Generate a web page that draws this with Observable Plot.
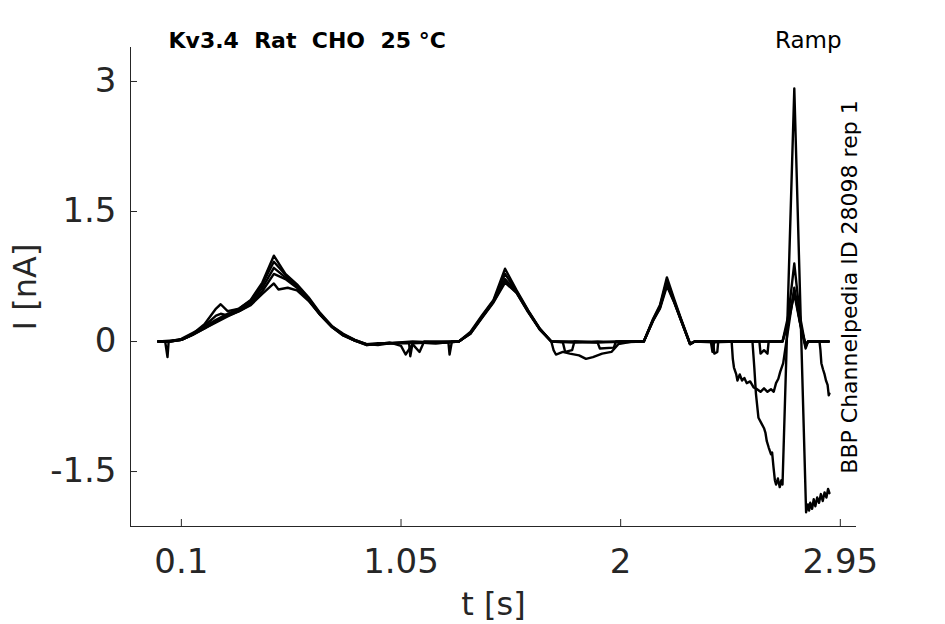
<!DOCTYPE html>
<html><head><meta charset="utf-8">
<script src="https://cdn.jsdelivr.net/npm/d3@7"></script>
<script src="https://cdn.jsdelivr.net/npm/@observablehq/plot@0.6"></script>
<style>body{margin:0;background:#fff}</style>
</head><body><div id="chart"></div>
<script>
// Sweeps: [time (s), current (nA)]
const sweep1 = [[0,0],[0.05,0.01],[0.1,0.02],[0.15,0.08],[0.2,0.15],[0.25,0.23],[0.3,0.30],[0.35,0.36],[0.4,0.45],[0.45,0.62],[0.5,0.85],[0.55,0.74],[0.6,0.63],[0.65,0.49],[0.7,0.31],[0.75,0.17],[0.8,0.08],[0.85,0.01],[0.9,-0.04],[0.95,-0.03],[1.0,-0.02],[1.1,-0.01],[1.2,-0.02],[1.3,0.0],[1.35,0.09],[1.4,0.28],[1.45,0.46],[1.5,0.72],[1.55,0.57],[1.6,0.35],[1.65,0.14],[1.7,0.0],[1.8,-0.01],[1.9,-0.01],[2.0,0.0],[2.1,0.0],[2.14,0.24],[2.17,0.39],[2.2,0.68],[2.23,0.47],[2.26,0.25],[2.3,-0.03],[2.32,0.0],[2.4,-0.01],[2.5,0.0],[2.57,0.0],[2.578,-0.3],[2.585,-0.6],[2.596,-0.88],[2.61,-0.95],[2.62,-1.0],[2.626,-1.05],[2.632,-1.15],[2.64,-1.22],[2.65,-1.3],[2.655,-1.28],[2.661,-1.45],[2.667,-1.6],[2.672,-1.65],[2.68,-1.58],[2.688,-1.68],[2.695,-1.6],[2.70,-1.65],[2.751,2.92],[2.802,-1.97],[2.81,-1.88],[2.815,-1.95],[2.82,-1.86],[2.828,-1.93],[2.835,-1.82],[2.842,-1.9],[2.85,-1.8],[2.858,-1.86],[2.866,-1.76],[2.874,-1.84],[2.882,-1.74],[2.89,-1.8],[2.897,-1.7],[2.903,-1.75]];
const sweep2 = [[0,0],[0.05,0.0],[0.1,0.02],[0.15,0.08],[0.2,0.15],[0.25,0.22],[0.3,0.29],[0.35,0.35],[0.4,0.43],[0.45,0.58],[0.5,0.78],[0.55,0.72],[0.6,0.62],[0.65,0.48],[0.7,0.31],[0.75,0.17],[0.8,0.07],[0.85,0.01],[0.9,-0.03],[0.95,-0.02],[1.0,-0.02],[1.085,-0.02],[1.09,-0.17],[1.1,-0.02],[1.2,-0.01],[1.3,0.0],[1.35,0.10],[1.4,0.28],[1.45,0.46],[1.5,0.70],[1.55,0.56],[1.6,0.34],[1.65,0.14],[1.7,0.0],[1.8,-0.01],[1.9,0.0],[2.0,-0.01],[2.1,0.0],[2.14,0.25],[2.17,0.40],[2.2,0.66],[2.23,0.47],[2.26,0.26],[2.3,-0.03],[2.32,0.0],[2.4,0.0],[2.48,0.0],[2.485,-0.2],[2.49,-0.3],[2.5,-0.38],[2.505,-0.45],[2.515,-0.38],[2.525,-0.45],[2.535,-0.42],[2.545,-0.48],[2.56,-0.46],[2.575,-0.53],[2.59,-0.55],[2.605,-0.58],[2.62,-0.54],[2.635,-0.58],[2.65,-0.55],[2.662,-0.58],[2.672,-0.48],[2.682,-0.43],[2.69,-0.35],[2.703,-0.25],[2.751,0.62],[2.78,0.15],[2.80,-0.05],[2.81,0.0],[2.86,0.0],[2.864,-0.1],[2.868,-0.25],[2.875,-0.32],[2.882,-0.38],[2.888,-0.45],[2.895,-0.5],[2.9,-0.62],[2.903,-0.6]];
const sweep3 = [[0,0],[0.03,0.0],[0.04,-0.18],[0.045,0.0],[0.1,0.03],[0.15,0.1],[0.2,0.17],[0.25,0.25],[0.3,0.32],[0.35,0.38],[0.4,0.48],[0.45,0.68],[0.5,0.99],[0.55,0.78],[0.6,0.66],[0.65,0.51],[0.7,0.33],[0.75,0.18],[0.8,0.09],[0.85,0.02],[0.9,-0.03],[0.95,-0.04],[1.0,-0.02],[1.1,0.0],[1.2,-0.01],[1.255,-0.01],[1.26,-0.15],[1.27,0.0],[1.3,0.0],[1.35,0.11],[1.4,0.30],[1.45,0.48],[1.5,0.84],[1.55,0.59],[1.6,0.36],[1.65,0.15],[1.7,0.0],[1.8,0.0],[1.9,-0.01],[2.0,0.0],[2.1,0.0],[2.14,0.26],[2.17,0.42],[2.2,0.74],[2.23,0.5],[2.26,0.27],[2.3,-0.02],[2.32,0.0],[2.39,0.0],[2.397,-0.12],[2.405,0.0],[2.5,0.0],[2.6,0.0],[2.7,0.0],[2.725,0.3],[2.751,0.9],[2.775,0.3],[2.8,-0.06],[2.81,0.0],[2.9,0.0]];
const sweep4 = [[0,0],[0.05,0.0],[0.1,0.02],[0.15,0.09],[0.2,0.2],[0.25,0.38],[0.27,0.43],[0.3,0.35],[0.35,0.38],[0.4,0.47],[0.45,0.66],[0.5,0.92],[0.55,0.77],[0.6,0.65],[0.65,0.5],[0.7,0.32],[0.75,0.18],[0.8,0.08],[0.85,0.02],[0.9,-0.03],[0.95,-0.03],[1.0,-0.01],[1.05,-0.05],[1.07,-0.15],[1.1,-0.03],[1.13,-0.12],[1.15,0.0],[1.2,0.0],[1.3,0.0],[1.35,0.1],[1.4,0.29],[1.45,0.47],[1.5,0.78],[1.55,0.58],[1.6,0.35],[1.65,0.15],[1.7,0.0],[1.71,-0.1],[1.72,-0.15],[1.75,-0.12],[1.78,-0.14],[1.82,-0.16],[1.85,-0.2],[1.88,-0.18],[1.92,-0.14],[1.96,-0.12],[1.99,-0.03],[2.05,0.0],[2.1,0.0],[2.14,0.25],[2.17,0.41],[2.2,0.70],[2.23,0.48],[2.26,0.26],[2.3,-0.03],[2.32,0.0],[2.4,0.0],[2.405,-0.14],[2.418,-0.12],[2.422,0.0],[2.5,0.0],[2.6,0.0],[2.605,-0.14],[2.62,-0.1],[2.635,-0.14],[2.64,0.0],[2.7,0.0],[2.725,0.24],[2.751,0.58],[2.775,0.24],[2.8,-0.08],[2.81,0.0],[2.9,0.0]];
const sweep5 = [[0,0],[0.05,0.0],[0.1,0.02],[0.15,0.08],[0.2,0.18],[0.25,0.3],[0.27,0.32],[0.3,0.3],[0.35,0.35],[0.4,0.42],[0.45,0.55],[0.5,0.67],[0.52,0.6],[0.56,0.62],[0.6,0.59],[0.65,0.47],[0.7,0.31],[0.75,0.17],[0.8,0.07],[0.85,0.01],[0.9,-0.04],[0.95,-0.03],[1.0,-0.02],[1.1,-0.01],[1.2,-0.02],[1.3,0.0],[1.35,0.09],[1.4,0.27],[1.45,0.45],[1.5,0.68],[1.55,0.56],[1.6,0.34],[1.65,0.14],[1.7,0.0],[1.75,-0.01],[1.76,-0.12],[1.79,-0.1],[1.8,0.0],[1.9,-0.01],[1.91,-0.08],[1.97,-0.07],[1.98,0.0],[2.1,0.0],[2.14,0.24],[2.17,0.38],[2.2,0.64],[2.23,0.46],[2.26,0.25],[2.3,-0.03],[2.32,0.0],[2.5,0.0],[2.7,0.0],[2.725,0.22],[2.751,0.55],[2.775,0.22],[2.8,-0.04],[2.81,0.0],[2.9,0.0]];

const xTicks = [0.1, 1.05, 2, 2.95];
const xTickLabels = ["0.1", "1.05", "2", "2.95"];
const yTicks = [3, 1.5, 0, -1.5];
const yTickLabels = ["3", "1.5", "0", "-1.5"];
const xDomain = [-0.12, 3.02];
const yDomain = [-2.134, 3.392];
const titleText = "Kv3.4\u00a0 Rat\u00a0 CHO\u00a0 25 °C";
const protocolText = "Ramp";
const sourceText = "BBP Channelpedia ID 28098 rep 1";
const xLabel = "t [s]";
const yLabel = "I [nA]";

const sweeps = [sweep5, sweep4, sweep3, sweep2, sweep1];
const data = sweeps.flatMap((s, k) => s.map(([t, i]) => ({t, i, sweep: k})));
const axisColor = "#262626";

const chart = Plot.plot({
  width: 945, height: 624,
  marginLeft: 130, marginRight: 89, marginTop: 47, marginBottom: 98,
  style: {fontFamily: "DejaVu Sans", color: axisColor, background: "#fff", overflow: "visible"},
  x: {domain: xDomain},
  y: {domain: yDomain},
  marks: [
    Plot.ruleX([xDomain[0]], {stroke: axisColor, strokeWidth: 1}),
    Plot.ruleY([yDomain[0]], {stroke: axisColor, strokeWidth: 1}),
    Plot.axisX({ticks: xTicks, tickFormat: d => xTickLabels[xTicks.indexOf(d)], tickSize: -7, tickPadding: 29, fontSize: 34, label: null, stroke: axisColor, fill: axisColor}),
    Plot.axisY({ticks: yTicks, tickFormat: d => yTickLabels[yTicks.indexOf(d)], tickSize: -7, tickPadding: 21, fontSize: 34, label: null, stroke: axisColor, fill: axisColor}),
    Plot.line(data, {x: "t", y: "i", z: "sweep", stroke: "black", strokeWidth: 2.4, strokeLinejoin: "round"}),
    Plot.text([yLabel], {frameAnchor: "left", dx: -105, rotate: -90, textAnchor: "middle", lineAnchor: "middle", fontSize: 32, fill: axisColor}),
    Plot.text([xLabel], {frameAnchor: "bottom", dy: 78, textAnchor: "middle", lineAnchor: "middle", fontSize: 32, fill: axisColor}),
    Plot.text([titleText], {frameAnchor: "top-left", dx: 38, textAnchor: "start", lineAnchor: "bottom", fontWeight: "bold", fontSize: 22, fill: "black"}),
    Plot.text([protocolText], {frameAnchor: "top-right", dx: -15, textAnchor: "end", lineAnchor: "bottom", fontSize: 23, fill: "black"}),
    Plot.text([sourceText], {frameAnchor: "right", dx: -7, rotate: -90, textAnchor: "middle", lineAnchor: "middle", fontSize: 22, fill: "black"})
  ]
});
document.getElementById("chart").appendChild(chart);
</script>
</body></html>
